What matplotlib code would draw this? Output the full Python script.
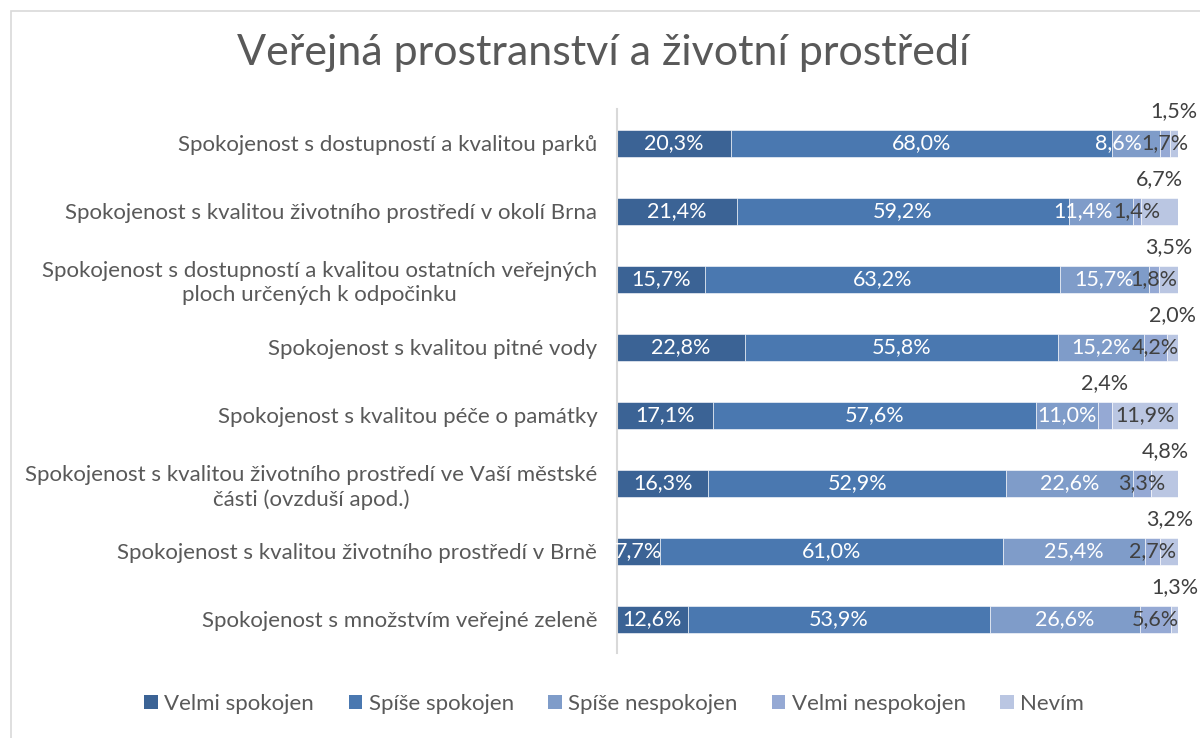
import numpy as np
import matplotlib
matplotlib.use("Agg")
import matplotlib.pyplot as plt
from matplotlib.patches import Patch, Rectangle

plt.rcParams['font.family'] = ['Lato', 'DejaVu Sans']

# Categories (top to bottom)
categories = [
    "Spokojenost s dostupností a kvalitou parků",
    "Spokojenost s kvalitou životního prostředí v okolí Brna",
    "Spokojenost s dostupností a kvalitou ostatních veřejných\nploch určených k odpočinku",
    "Spokojenost s kvalitou pitné vody",
    "Spokojenost s kvalitou péče o památky",
    "Spokojenost s kvalitou životního prostředí ve Vaší městské\nčásti (ovzduší apod.)",
    "Spokojenost s kvalitou životního prostředí v Brně",
    "Spokojenost s množstvím veřejné zeleně",
]

series_names = ["Velmi spokojen", "Spíše spokojen", "Spíše nespokojen", "Velmi nespokojen", "Nevím"]

velmi_spokojen = [20.3, 21.4, 15.7, 22.8, 17.1, 16.3, 7.7, 12.6]
spise_spokojen = [68.0, 59.2, 63.2, 55.8, 57.6, 52.9, 61.0, 53.9]
spise_nespokojen = [8.6, 11.4, 15.7, 15.2, 11.0, 22.6, 25.4, 26.6]
velmi_nespokojen = [1.7, 1.4, 1.8, 4.2, 2.4, 3.3, 2.7, 5.6]
nevim = [1.5, 6.7, 3.5, 2.0, 11.9, 4.8, 3.2, 1.3]

# which series label sits above the bar in each row (index into series)
raised_label = [4, 4, 4, 4, 3, 4, 4, 4]

colors = ["#3B6395", "#4A78B0", "#7F9CC9", "#95A9D4", "#BAC6E2"]
label_colors = ["white", "white", "white", "#404040", "#404040"]
text_gray = "#595959"

data = np.array([velmi_spokojen, spise_spokojen, spise_nespokojen, velmi_nespokojen, nevim])
# 100% stacked -> normalize each row
shares = data / data.sum(axis=0) * 100

fig = plt.figure(figsize=(12, 7.38), dpi=100)
ax = fig.add_axes([0.514, 0.115, 0.468, 0.737])

y = np.arange(len(categories))
left = np.zeros(len(categories))
for i in range(len(series_names)):
    ax.barh(y, shares[i], left=left, height=0.4, color=colors[i],
            edgecolor="white", linewidth=0.4, label=series_names[i])
    for r in range(len(categories)):
        xc = left[r] + shares[i][r] / 2
        yc = y[r]
        if raised_label[r] == i:
            yc = y[r] - 0.47
            col = "#404040"
        else:
            col = label_colors[i]
        if i == 2 and r in (0, 1):
            xc -= 3.2  # nudge left, like the original
        txt = f"{data[i][r]:.1f}".replace(".", ",") + "%"
        ax.text(xc, yc, txt, ha="center", va="center", fontsize=15.5, color=col)
    left += shares[i]

ax.set_xlim(0, 100)
ax.set_ylim(len(categories) - 0.5, -0.5)
ax.set_yticks(y)
ax.set_yticklabels(categories, fontsize=16, color=text_gray, multialignment="center",
                   linespacing=1.25)
ax.tick_params(axis="y", length=0, pad=14)
ax.xaxis.set_visible(False)
for s in ["top", "right", "bottom"]:
    ax.spines[s].set_visible(False)
ax.spines["left"].set_color("#D9D9D9")
ax.spines["left"].set_linewidth(1.5)

fig.text(0.503, 0.928, "Veřejná prostranství a životní prostředí", ha="center", va="center",
         fontsize=31, color=text_gray)

handles = [Patch(facecolor=c, edgecolor="none") for c in colors]
fig.legend(handles, series_names, loc="center", bbox_to_anchor=(0.512, 0.046), ncol=5,
           frameon=False, fontsize=16, labelcolor=text_gray, handlelength=0.6,
           handleheight=0.6, handletextpad=0.3, columnspacing=1.55)

# chart border
fig.patches.append(Rectangle((11 / 1200, -0.1), 1.2, 1.1 - 11 / 738, transform=fig.transFigure,
                             fill=False, edgecolor="#D9D9D9", linewidth=1.2))

fig.savefig("out.png", dpi=100)
